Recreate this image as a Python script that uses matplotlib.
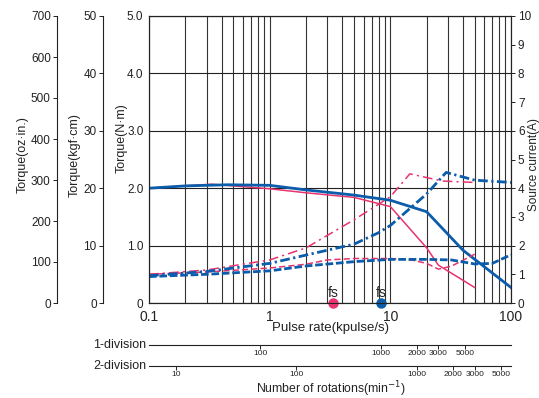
"""Pull-out torque / source current vs pulse rate, stepping motor datasheet style."""
import matplotlib
matplotlib.use("Agg")
import matplotlib.pyplot as plt
from matplotlib.ticker import FixedLocator, NullLocator, FixedFormatter

plt.rcParams["font.family"] = ["Liberation Sans", "DejaVu Sans"]
plt.rcParams["lines.scale_dashes"] = False

BLUE = "#0b5cab"
RED = "#e8336f"

# pull-out torque (N·m) vs pulse rate (kpulse/s)
blue_torque_x = [0.1, 0.2, 0.45, 1, 2, 5, 10, 20, 40, 100]
blue_torque_y = [2.0, 2.04, 2.06, 2.05, 1.97, 1.88, 1.79, 1.59, 0.92, 0.27]
red_torque_x = [0.1, 0.33, 1, 2, 5, 10, 20, 25, 50]
red_torque_y = [2.0, 2.07, 1.99, 1.92, 1.84, 1.68, 0.96, 0.66, 0.27]

# source current (A)
blue_cur1_x = [0.1, 0.3, 1, 2, 5, 8, 10, 20, 29, 50, 100]
blue_cur1_y = [0.95, 1.1, 1.38, 1.67, 2.05, 2.45, 2.7, 3.8, 4.55, 4.28, 4.2]
red_cur1_x = [0.1, 0.3, 1, 2, 5, 10, 14.5, 27, 50]
red_cur1_y = [1.0, 1.15, 1.5, 1.92, 2.9, 3.7, 4.5, 4.25, 4.2]
blue_cur2_x = [0.1, 0.3, 1, 2, 5, 10, 20, 32, 50, 70, 100]
blue_cur2_y = [0.92, 1.0, 1.12, 1.29, 1.44, 1.52, 1.52, 1.5, 1.36, 1.38, 1.68]
red_cur2_x = [0.1, 0.3, 1, 2, 3, 5, 10, 15, 20, 25, 32, 50]
red_cur2_y = [1.0, 1.08, 1.22, 1.35, 1.5, 1.55, 1.55, 1.5, 1.38, 1.18, 1.28, 1.7]

fs_red = 3.37
fs_blue = 8.35

x_ticks = [0.1, 1, 10, 100]
x_ticklabels = ["0.1", "1", "10", "100"]
nm_ticks = [0, 1, 2, 3, 4, 5]
nm_labels = ["0", "1.0", "2.0", "3.0", "4.0", "5.0"]
kgf_ticks = [0, 10, 20, 30, 40, 50]
ozin_ticks = [0, 100, 200, 300, 400, 500, 600, 700]
amp_ticks = list(range(0, 11))
div1_ticks = [100, 1000, 2000, 3000, 5000]
div2_ticks = [10, 100, 1000, 2000, 3000, 5000]

W, H = 539, 398
fig = plt.figure(figsize=(W / 100, H / 100), dpi=100)
L, R, B, T = 149, 511, 303, 16
ax = fig.add_axes([L / W, 1 - B / H, (R - L) / W, (B - T) / H])
ax.set_xscale("log")
ax.set_xlim(0.1, 100)
ax.set_ylim(0, 5)
ax.xaxis.set_major_locator(FixedLocator(x_ticks))
ax.xaxis.set_major_formatter(FixedFormatter(x_ticklabels))
ax.xaxis.set_minor_locator(FixedLocator(
    [m * d for d in (0.1, 1, 10) for m in range(2, 10)]))
ax.set_yticks(nm_ticks)
ax.set_yticklabels(nm_labels)
ax.tick_params(axis="both", which="both", length=0, colors="#222")
ax.tick_params(axis="x", labelsize=10, pad=5)
ax.tick_params(axis="y", labelsize=8.5, pad=4)
ax.grid(True, axis="x", which="both", color="#333", lw=0.8)
ax.grid(True, axis="y", which="major", color="#222", lw=0.8)
for s in ax.spines.values():
    s.set_color("#222")
    s.set_linewidth(0.8)

ax.plot(red_torque_x, red_torque_y, color=RED, lw=1.1, zorder=3)
ax.plot(blue_torque_x, blue_torque_y, color=BLUE, lw=2.0, zorder=4)

ax2 = ax.twinx()
ax2.set_ylim(0, 10)
ax2.set_yticks(amp_ticks)
ax2.tick_params(axis="y", length=3, width=0.7, labelsize=8.5, pad=2, colors="#222")
for s in ax2.spines.values():
    s.set_color("#222")
    s.set_linewidth(0.8)
ax2.plot(red_cur1_x, red_cur1_y, color=RED, lw=1.1, dashes=[7, 3, 1.5, 3])
ax2.plot(red_cur2_x, red_cur2_y, color=RED, lw=1.1, dashes=[4.5, 2.2])
ax2.plot(blue_cur1_x, blue_cur1_y, color=BLUE, lw=2.0, dashes=[7, 2.5, 1.6, 2.5])
ax2.plot(blue_cur2_x, blue_cur2_y, color=BLUE, lw=2.0, dashes=[5.5, 2])

# fs markers on the pulse-rate axis
ax.plot([fs_red], [0], "o", color=RED, ms=6.5, clip_on=False, zorder=6)
ax.plot([fs_blue], [0], "o", color=BLUE, ms=6.5, clip_on=False, zorder=6)
ax.text(fs_red, 0.05, "fs", ha="center", va="bottom", fontsize=10, color="#222")
ax.text(fs_blue, 0.05, "fs", ha="center", va="bottom", fontsize=10, color="#222")


# extra torque scales on the left
def extra_left(axis_px, top, ticks):
    a = ax.twinx()
    a.set_ylim(0, top)
    a.set_yticks(ticks)
    a.yaxis.set_ticks_position("left")
    a.yaxis.set_label_position("left")
    for k in ("right", "top", "bottom"):
        a.spines[k].set_visible(False)
    a.spines["left"].set_position(("axes", (axis_px - L) / (R - L)))
    a.spines["left"].set_color("#222")
    a.spines["left"].set_linewidth(0.8)
    a.tick_params(axis="y", length=3, width=0.7, labelsize=8.5, pad=1.5, colors="#222")
    return a


extra_left(103, 50, kgf_ticks)
extra_left(57, 700, ozin_ticks)


# rotation-speed scales below (rpm = kpulse/s * factor)
def rpm_scale(y_px, factor, ticks):
    sec = ax.secondary_xaxis(-(y_px - B) / (B - T),
                             functions=(lambda x: x * factor, lambda r: r / factor))
    sec.xaxis.set_major_locator(FixedLocator(ticks))
    sec.xaxis.set_major_formatter(FixedFormatter([str(t) for t in ticks]))
    sec.xaxis.set_minor_locator(NullLocator())
    sec.tick_params(axis="x", length=3, width=0.7, labelsize=6, pad=0.8, colors="#222")
    sec.spines["bottom"].set_color("#222")
    sec.spines["bottom"].set_linewidth(0.8)
    return sec


rpm_scale(345, 120, div1_ticks)
rpm_scale(366, 60, div2_ticks)


def fx(px):
    return px / W


def fy(py):
    return 1 - py / H


txt = dict(color="#222")
fig.text(fx(23), fy(155), "Torque(oz·in.)", rotation=90, ha="center", va="center", fontsize=9, **txt)
fig.text(fx(75), fy(155), "Torque(kgf·cm)", rotation=90, ha="center", va="center", fontsize=9, **txt)
fig.text(fx(122), fy(138), "Torque(N·m)", rotation=90, ha="center", va="center", fontsize=9, **txt)
fig.text(fx(534), fy(165), "Source current(A)", rotation=90, ha="center", va="center", fontsize=8.5, **txt)
fig.text(fx(330), fy(328), "Pulse rate(kpulse/s)", ha="center", va="center", fontsize=9.5, **txt)
fig.text(fx(146), fy(345), "1-division", ha="right", va="center", fontsize=9, **txt)
fig.text(fx(146), fy(366), "2-division", ha="right", va="center", fontsize=9, **txt)
fig.text(fx(331), fy(393), "Number of rotations(min$^{-1}$)", ha="center", va="baseline", fontsize=8.8, **txt)

fig.savefig("out.png", dpi=100)
